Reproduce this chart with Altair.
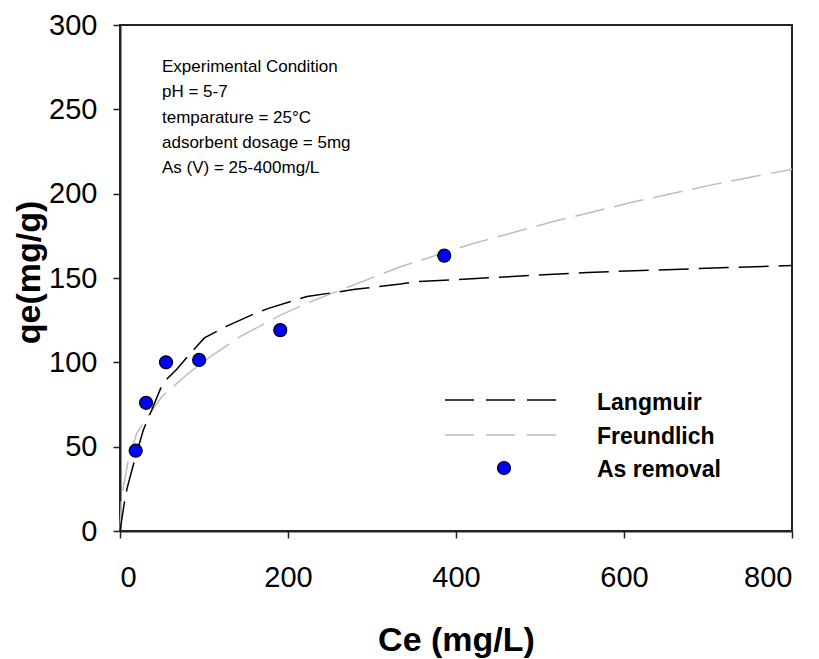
import altair as alt
import pandas as pd

FONT = "Liberation Sans"

# Measured adsorption data: equilibrium concentration vs. uptake
as_ce = [18.7, 31.0, 54.8, 94.2, 190.8, 386.0]
as_qe = [47.6, 76.0, 100.0, 101.4, 119.1, 163.2]

# Langmuir fitted curve
lang_ce = [0, 5.7, 8.7, 17.9, 27.8, 35.8, 50.9, 67.6, 81.5, 100.5, 127.2, 161.0,
           176.8, 208.6, 222.6, 280.0, 333.8, 353.7, 556.4, 790.8, 800]
lang_qe = [0, 18.4, 25.9, 43.0, 59.9, 69.4, 87.6, 95.9, 104.0, 114.5, 121.5, 129.0,
           132.0, 136.9, 139.0, 143.3, 146.4, 147.8, 153.3, 157.3, 157.4]

# Freundlich fitted curve
freu_ce = [0, 1.6, 4.0, 9.9, 19.9, 35.8, 49.7, 81.4, 107.3, 143.0, 190.8, 226.5,
           333.8, 417.3, 514.7, 612.0, 707.3, 800]
freu_qe = [0, 18.4, 25.9, 42.0, 57.9, 69.8, 79.6, 93.5, 103.3, 115.2, 128.0, 135.9,
           156.7, 170.0, 183.3, 195.2, 205.5, 214.5]

series_names = ["Langmuir", "Freundlich", "As removal"]
x_ticks = [0, 200, 400, 600, 800]
y_ticks = [0, 50, 100, 150, 200, 250, 300]

condition_lines = [
    "Experimental Condition",
    "pH = 5-7",
    "temparature = 25°C",
    "adsorbent dosage = 5mg",
    "As (V) = 25-400mg/L",
]

x_enc = alt.X(
    "ce:Q",
    scale=alt.Scale(domain=[0, 800], nice=False),
    axis=alt.Axis(
        values=x_ticks, title="Ce (mg/L)", titleY=119, titleBaseline="alphabetic",
        labelPadding=25,
    ),
)
y_enc = alt.Y(
    "qe:Q",
    scale=alt.Scale(domain=[0, 300], nice=False),
    axis=alt.Axis(
        values=y_ticks, title="qe(mg/g)", titleX=-81, titleY=247,
        titleBaseline="alphabetic", titleAlign="center", titleAngle=270,
        labelPadding=16,
    ),
)

freu = alt.Chart(pd.DataFrame({"ce": freu_ce, "qe": freu_qe})).mark_line(
    color="#bdbdbd", strokeWidth=1.5, strokeDash=[30, 10]
).encode(x=x_enc, y=y_enc)

lang = alt.Chart(pd.DataFrame({"ce": lang_ce, "qe": lang_qe})).mark_line(
    color="black", strokeWidth=1.5, strokeDash=[30, 10]
).encode(x=x_enc, y=y_enc)

pts = alt.Chart(pd.DataFrame({"ce": as_ce, "qe": as_qe})).mark_point(
    shape="circle", filled=True, fill="#0000ff", stroke="black", strokeWidth=1.2,
    size=170, opacity=1,
).encode(x=x_enc, y=y_enc)

note = alt.Chart(pd.DataFrame({"k": [0]})).mark_text(
    text=condition_lines, align="left", baseline="alphabetic", font=FONT,
    fontSize=17, lineHeight=25.3, color="black",
).encode(x=alt.value(42), y=alt.value(47))

# Legend, drawn inside the plot area
leg_font = dict(font=FONT, fontSize=23, fontWeight="bold", align="left",
                baseline="alphabetic", color="black")

leg_lang_line = alt.Chart(pd.DataFrame({"k": [0]})).mark_rule(
    color="black", strokeWidth=1.5, strokeDash=[29, 12]
).encode(x=alt.value(325), x2=alt.value(437), y=alt.value(375))
leg_freu_line = alt.Chart(pd.DataFrame({"k": [0]})).mark_rule(
    color="#bdbdbd", strokeWidth=1.5, strokeDash=[29, 12]
).encode(x=alt.value(325), x2=alt.value(437), y=alt.value(410))
leg_pt = alt.Chart(pd.DataFrame({"k": [0]})).mark_point(
    shape="circle", filled=True, fill="#0000ff", stroke="black", strokeWidth=1.2,
    size=170, opacity=1,
).encode(x=alt.value(384), y=alt.value(443))

leg_texts = [
    alt.Chart(pd.DataFrame({"label": [name]})).mark_text(**leg_font).encode(
        text="label:N", x=alt.value(477), y=alt.value(yy)
    )
    for name, yy in zip(series_names, [385, 418.5, 452])
]

chart = alt.layer(
    freu, lang, pts, note, leg_lang_line, leg_freu_line, leg_pt, *leg_texts
).properties(
    width=672,
    height=506,
    autosize=alt.AutoSizeParams(type="none"),
    padding={"left": 120, "top": 25, "right": 27, "bottom": 128},
    background="white",
).configure_view(
    stroke="#222", strokeWidth=2
).configure_axis(
    grid=False,
    domainColor="#222",
    domainWidth=2,
    tickColor="#222",
    tickWidth=1.5,
    tickSize=7,
    labelFont=FONT,
    labelFontSize=29,
    labelColor="black",
    titleFont=FONT,
    titleFontSize=34,
    titleFontWeight="bold",
    titleColor="black",
)

chart.save("out.html", embed_options={"renderer": "svg", "actions": False})
